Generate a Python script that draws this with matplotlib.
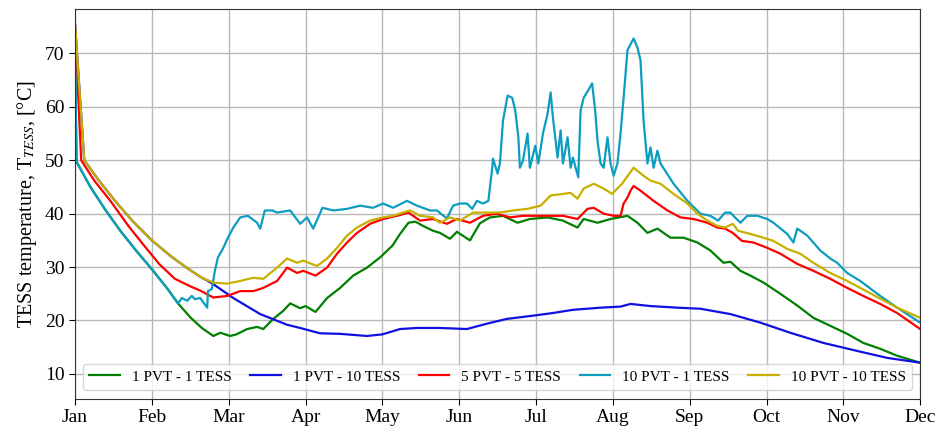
import matplotlib
matplotlib.use("Agg")
import matplotlib.pyplot as plt

plt.rcParams['font.family'] = ['Liberation Serif', 'DejaVu Serif']
plt.rcParams['mathtext.fontset'] = 'stix'

MONTHS = ['Jan', 'Feb', 'Mar', 'Apr', 'May', 'Jun', 'Jul', 'Aug', 'Sep', 'Oct', 'Nov', 'Dec']

# (month, temperature) pairs
pvt1_tess1 = [(0.00, 70.0), (0.02, 49.7), (0.20, 45.0), (0.40, 40.6), (0.60, 36.6), (0.80, 33.0),
              (1.00, 29.6), (1.20, 26.0), (1.34, 23.2), (1.50, 20.6), (1.65, 18.6), (1.80, 17.1),
              (1.89, 17.7), (2.02, 17.1), (2.10, 17.4), (2.24, 18.4), (2.37, 18.8), (2.45, 18.4),
              (2.58, 20.3), (2.71, 21.8), (2.80, 23.2), (2.93, 22.3), (3.00, 22.7), (3.13, 21.6),
              (3.28, 24.2), (3.45, 26.1), (3.62, 28.4), (3.80, 29.9), (3.97, 31.8), (4.13, 34.0),
              (4.23, 36.2), (4.34, 38.3), (4.43, 38.5), (4.53, 37.7), (4.66, 36.8), (4.75, 36.4),
              (4.88, 35.3), (4.97, 36.6), (5.14, 35.0), (5.27, 38.2), (5.40, 39.3), (5.57, 39.6),
              (5.76, 38.3), (5.92, 39.0), (6.15, 39.3), (6.35, 38.7), (6.54, 37.4), (6.62, 39.0),
              (6.80, 38.3), (6.97, 39.0), (7.19, 39.6), (7.32, 38.3), (7.45, 36.4), (7.58, 37.2),
              (7.75, 35.5), (7.92, 35.5), (8.10, 34.6), (8.27, 33.1), (8.44, 30.8), (8.53, 31.0),
              (8.66, 29.3), (8.79, 28.4), (8.96, 27.1), (9.18, 25.0), (9.40, 22.8), (9.61, 20.5),
              (9.83, 19.0), (10.05, 17.5), (10.26, 15.8), (10.48, 14.7), (10.70, 13.4), (11.00, 12.1)]

pvt1_tess10 = [(0.00, 75.5), (0.12, 50.0), (0.30, 46.4), (0.52, 42.4), (0.75, 38.6), (1.00, 35.0),
               (1.25, 32.0), (1.46, 29.8), (1.65, 28.0), (1.72, 27.5), (1.80, 26.8), (2.06, 24.2),
               (2.41, 21.2), (2.76, 19.2), (2.93, 18.6), (3.19, 17.6), (3.45, 17.5), (3.80, 17.1),
               (4.00, 17.4), (4.23, 18.4), (4.45, 18.6), (4.75, 18.6), (5.10, 18.4), (5.36, 19.4),
               (5.62, 20.3), (5.96, 20.9), (6.22, 21.4), (6.48, 22.0), (6.84, 22.4), (7.10, 22.6),
               (7.23, 23.1), (7.49, 22.7), (7.84, 22.4), (8.14, 22.2), (8.53, 21.2), (8.92, 19.6),
               (9.31, 17.7), (9.74, 15.8), (10.18, 14.3), (10.57, 13.0), (11.00, 12.1)]

pvt5_tess5 = [(0.00, 75.0), (0.08, 50.0), (0.25, 46.2), (0.46, 42.4), (0.70, 37.6), (0.90, 34.0),
              (1.10, 30.5), (1.30, 27.8), (1.50, 26.4), (1.63, 25.6), (1.80, 24.3), (1.98, 24.6),
              (2.15, 25.5), (2.32, 25.5), (2.45, 26.1), (2.63, 27.4), (2.76, 29.9), (2.89, 28.9),
              (2.97, 29.3), (3.13, 28.4), (3.28, 29.9), (3.41, 32.5), (3.54, 34.6), (3.67, 36.4),
              (3.84, 38.1), (4.01, 39.0), (4.19, 39.6), (4.34, 40.2), (4.49, 38.7), (4.66, 39.0),
              (4.84, 38.1), (4.97, 39.0), (5.14, 38.3), (5.31, 39.6), (5.49, 40.0), (5.66, 39.3),
              (5.83, 39.6), (6.02, 39.6), (6.19, 39.6), (6.35, 39.6), (6.54, 39.0), (6.67, 40.9),
              (6.75, 41.1), (6.88, 40.0), (7.01, 39.6), (7.10, 39.6), (7.14, 41.9), (7.19, 43.0),
              (7.23, 44.3), (7.27, 45.2), (7.36, 44.3), (7.53, 42.4), (7.71, 40.6), (7.88, 39.3),
              (8.05, 39.0), (8.23, 38.3), (8.36, 37.4), (8.46, 37.2), (8.56, 36.4), (8.68, 34.9),
              (8.83, 34.6), (9.01, 33.6), (9.18, 32.5), (9.40, 30.6), (9.61, 29.3), (9.83, 27.8),
              (10.05, 26.1), (10.26, 24.6), (10.48, 23.1), (10.70, 21.4), (11.00, 18.4)]

pvt10_tess1 = [(0.00, 70.0), (0.02, 49.7), (0.20, 45.0), (0.40, 40.6), (0.60, 36.6), (0.80, 33.0),
               (1.00, 29.6), (1.20, 26.0), (1.34, 23.2), (1.39, 24.2), (1.46, 23.7), (1.52, 24.6),
               (1.56, 24.0), (1.63, 24.2), (1.72, 22.4), (1.73, 25.5), (1.78, 25.9), (1.82, 29.3),
               (1.86, 31.8), (1.93, 33.6), (1.99, 35.5), (2.06, 37.4), (2.15, 39.3), (2.25, 39.6),
               (2.37, 38.3), (2.41, 37.2), (2.47, 40.6), (2.57, 40.6), (2.63, 40.2), (2.80, 40.6),
               (2.93, 38.1), (3.02, 39.3), (3.10, 37.2), (3.22, 41.1), (3.36, 40.6), (3.54, 40.9),
               (3.71, 41.5), (3.88, 41.1), (4.01, 41.9), (4.14, 41.1), (4.32, 42.4), (4.45, 41.5),
               (4.62, 40.6), (4.71, 40.6), (4.84, 39.1), (4.92, 41.5), (5.01, 41.9), (5.10, 41.9),
               (5.17, 40.9), (5.23, 42.4), (5.31, 41.9), (5.38, 42.4), (5.43, 48.6), (5.44, 50.3),
               (5.50, 47.5), (5.53, 49.4), (5.57, 57.4), (5.63, 62.1), (5.69, 61.7), (5.73, 59.3),
               (5.77, 54.3), (5.79, 48.6), (5.83, 49.9), (5.89, 55.0), (5.92, 48.6), (5.99, 52.7),
               (6.03, 49.4), (6.09, 55.0), (6.15, 58.7), (6.19, 62.7), (6.22, 58.0), (6.28, 50.5),
               (6.32, 55.6), (6.35, 49.4), (6.41, 54.3), (6.45, 48.6), (6.48, 50.5), (6.55, 46.8),
               (6.58, 59.3), (6.62, 61.7), (6.68, 63.1), (6.73, 64.4), (6.77, 59.3), (6.80, 53.7),
               (6.84, 49.4), (6.88, 48.6), (6.93, 54.3), (6.97, 49.4), (7.01, 47.1), (7.06, 49.4),
               (7.10, 55.0), (7.14, 61.7), (7.19, 70.6), (7.27, 72.8), (7.32, 71.1), (7.36, 68.7),
               (7.40, 57.4), (7.45, 49.4), (7.49, 52.4), (7.53, 48.6), (7.58, 51.8), (7.62, 49.4),
               (7.79, 45.6), (7.97, 42.4), (8.14, 40.0), (8.27, 39.6), (8.37, 38.7), (8.46, 40.2),
               (8.53, 40.2), (8.59, 39.3), (8.66, 38.3), (8.75, 39.6), (8.88, 39.6), (9.01, 39.0),
               (9.09, 38.3), (9.27, 36.2), (9.35, 34.6), (9.40, 37.2), (9.53, 35.9), (9.70, 33.1),
               (9.83, 31.6), (9.92, 30.8), (10.05, 28.9), (10.22, 27.4), (10.48, 24.6), (10.70, 22.4),
               (11.00, 19.6)]

pvt10_tess10 = [(0.00, 75.5), (0.12, 50.0), (0.30, 46.4), (0.52, 42.4), (0.75, 38.6), (1.00, 35.0),
                (1.25, 32.0), (1.46, 29.8), (1.65, 28.0), (1.80, 27.1), (1.98, 26.9), (2.15, 27.4),
                (2.32, 28.0), (2.45, 27.8), (2.63, 29.9), (2.76, 31.6), (2.89, 30.8), (2.97, 31.2),
                (3.15, 30.2), (3.28, 31.6), (3.41, 33.6), (3.54, 35.9), (3.67, 37.4), (3.84, 38.7),
                (4.01, 39.3), (4.14, 39.6), (4.27, 40.2), (4.36, 40.6), (4.49, 39.6), (4.66, 39.3),
                (4.75, 38.3), (4.88, 39.3), (5.01, 38.7), (5.18, 40.2), (5.37, 40.2), (5.53, 40.2),
                (5.70, 40.6), (5.89, 40.9), (6.06, 41.5), (6.19, 43.4), (6.35, 43.7), (6.45, 43.9),
                (6.54, 42.8), (6.62, 44.7), (6.75, 45.6), (6.88, 44.7), (6.99, 43.7), (7.12, 45.6),
                (7.27, 48.6), (7.40, 47.1), (7.49, 46.2), (7.62, 45.6), (7.79, 43.7), (7.97, 41.9),
                (8.10, 40.0), (8.23, 38.7), (8.36, 37.7), (8.46, 37.4), (8.56, 38.1), (8.63, 36.8),
                (8.79, 36.2), (8.96, 35.5), (9.09, 34.9), (9.27, 33.4), (9.44, 32.5), (9.61, 30.8),
                (9.83, 28.9), (10.05, 27.4), (10.22, 26.1), (10.48, 24.1), (10.70, 22.4), (11.00, 20.5)]

series = [
    ('1 PVT - 1 TESS', pvt1_tess1, '#007f00'),
    ('1 PVT - 10 TESS', pvt1_tess10, '#1010e0'),
    ('5 PVT - 5 TESS', pvt5_tess5, '#ff0000'),
    ('10 PVT - 1 TESS', pvt10_tess1, '#0d9dc0'),
    ('10 PVT - 10 TESS', pvt10_tess10, '#c8b000'),
]

fig = plt.figure(figsize=(9.38, 4.33), dpi=100)
ax = fig.add_axes([0.080, 0.0785, 0.901, 0.9005])

for label, pts, color in series:
    xs = [p[0] for p in pts]
    ys = [p[1] for p in pts]
    ax.plot(xs, ys, color=color, lw=1.6, label=label)

ax.set_xlim(0, 11)
ax.set_ylim(5.3, 78.3)
ax.set_xticks(range(12))
ax.set_xticklabels(MONTHS)
ax.set_yticks([10, 20, 30, 40, 50, 60, 70])
ax.tick_params(labelsize=14, direction='out', length=4)
ax.grid(True, color='#b8b8b8', lw=1.0)
ax.set_axisbelow(True)
for s in ax.spines.values():
    s.set_color('#333333')
ax.set_ylabel(r'TESS temperature, T$_{TESS}$, [°C]', fontsize=14.5)

ax.legend(loc='lower left', bbox_to_anchor=(0.004, 0.012, 0.992, 0.1), mode='expand',
          ncol=5, fontsize=11, handlelength=2.0, borderaxespad=0.3, framealpha=0.8)

fig.savefig('out.png', dpi=100)
